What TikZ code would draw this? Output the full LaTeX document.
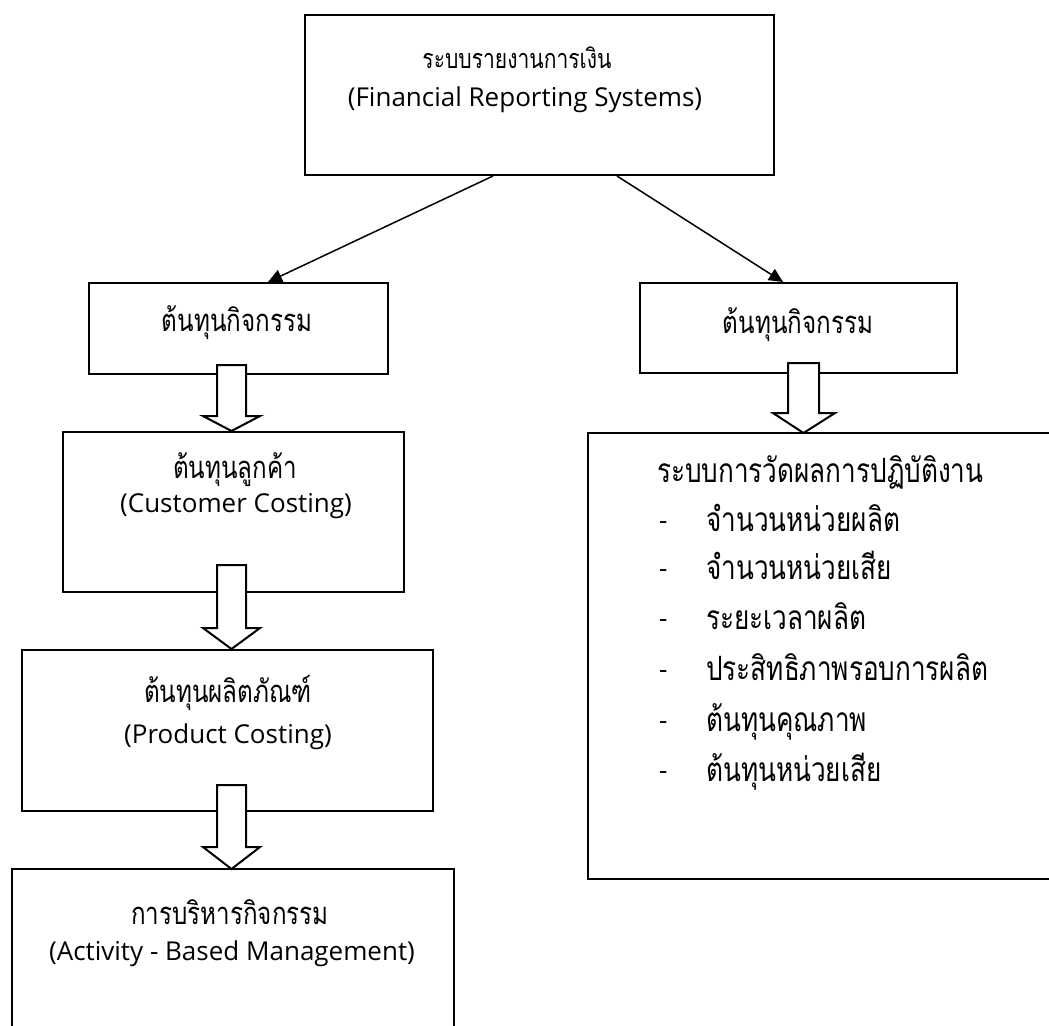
\documentclass[tikz,border=0pt]{standalone}
\usepackage{fontspec}
\setmainfont{Open Sans}
\newfontfamily\thaifont[Script=Thai,FakeStretch=0.78]{Loma}
\usetikzlibrary{arrows.meta}
\tikzset{
  box/.style={draw, line width=2pt, rectangle, inner sep=0pt, fill=white},
  thtext/.style={font=\thaifont\fontsize{31}{34}\selectfont, inner sep=0pt, anchor=center},
  entext/.style={font=\fontsize{26}{30}\selectfont, inner sep=0pt, anchor=center},
  ltext/.style={font=\thaifont\fontsize{33.5}{36}\selectfont, inner sep=0pt, anchor=base west},
  dashtext/.style={font=\fontsize{26}{30}\selectfont, inner sep=0pt, anchor=base west},
  thinarrow/.style={line width=1.5pt, -{Triangle[length=14pt,width=13pt]}},
  blockarrow/.style={draw, line width=2pt, fill=white, line join=miter}
}
\begin{document}
\begin{tikzpicture}[x=1pt,y=-1pt]
\useasboundingbox (0,0) rectangle (1049,1025);
% boxes
\node[box, minimum width=469pt, minimum height=160pt] (top) at (539.5,95) {};
\node[box, minimum width=299pt, minimum height=91pt] (l1) at (238.5,328.5) {};
\node[box, minimum width=341pt, minimum height=160pt] (l2) at (233.5,512) {};
\node[box, minimum width=411pt, minimum height=161pt] (l3) at (227.5,730.5) {};
\node[box, minimum width=317pt, minimum height=90pt] (r1) at (798.5,328) {};
\coordinate (l4a) at (12,1030);
\coordinate (l4b) at (454,1030);
\draw[line width=2pt] (l4a) -- (12,869) -- (454,869) -- (l4b);
\coordinate (r2a) at (1055,433);
\coordinate (r2b) at (1055,879);
\draw[line width=2pt] (r2a) -- (588,433) -- (588,879) -- (r2b);
\coordinate (l4top) at (231.5,869);
\coordinate (r2top) at (803.5,433);
% texts
\node[thtext, font=\thaifont\fontsize{27}{30}\selectfont] (t1) at (517,58) {ระบบรายงานการเงิน};
\node[entext] (t2) at (525,100) {(Financial Reporting Systems)};
\node[thtext] (tl1) at (237,323) {ต้นทุนกิจกรรม};
\node[thtext] (tl2a) at (235,470) {ต้นทุนลูกค้า};
\node[entext] (tl2b) at (236,506) {(Customer Costing)};
\node[thtext] (tl3a) at (228,693) {ต้นทุนผลิตภัณฑ์};
\node[entext] (tl3b) at (228,737) {(Product Costing)};
\node[thtext] (tl4a) at (230,912) {การบริหารกิจกรรม};
\node[entext] (tl4b) at (232,954) {(Activity - Based Management)};
\node[thtext] (tr1) at (798,325) {ต้นทุนกิจกรรม};
\node[ltext] (h) at (657,482) {ระบบการวัดผลการปฏิบัติงาน};
\foreach \y/\t [count=\i] in {523/จำนวนหน่วยผลิต, 571/จำนวนหน่วยเสีย, 621/ระยะเวลาผลิต, 672/ประสิทธิภาพรอบการผลิต, 723/ต้นทุนคุณภาพ, 773/ต้นทุนหน่วยเสีย}{
  \node[dashtext] (d\i) at (659,\y+6) {-};
  \node[ltext] (i\i) at (706,\y+8) {\t};
}
% thin arrows
\draw[thinarrow] (top.south -| 493,0) -- (l1.north -| 268,0);
\draw[thinarrow] (top.south -| 617,0) -- (r1.north -| 783,0);
% block arrows
\draw[blockarrow] (217,365) -- (217,416) -- (203,416) -- (l2.north -| 231.5,0) -- (260,416) -- (246,416) -- (246,365) -- cycle;
\draw[blockarrow] (217,565) -- (217,628) -- (203,628) -- (l3.north -| 231.5,0) -- (260,628) -- (246,628) -- (246,565) -- cycle;
\draw[blockarrow] (217,785) -- (217,847) -- (203,847) -- (l4top) -- (260,847) -- (246,847) -- (246,785) -- cycle;
\draw[blockarrow] (788,363) -- (788,413) -- (773,413) -- (r2top) -- (835,413) -- (819,413) -- (819,363) -- cycle;
\end{tikzpicture}
\end{document}
